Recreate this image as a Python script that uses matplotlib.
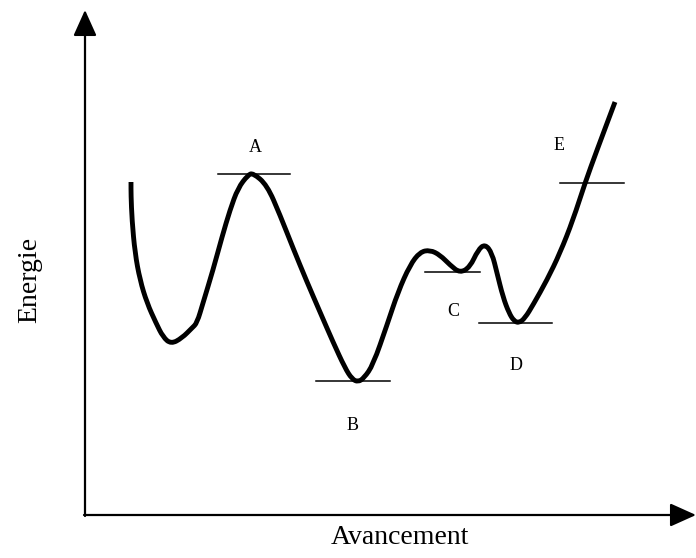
import numpy as np
import matplotlib.pyplot as plt
from matplotlib.path import Path
from matplotlib.patches import PathPatch

# energy profile (pixel-like units, y grows downward)
curve_x = [131, 131, 132, 135, 140, 147, 156, 163, 171, 182, 192, 197, 203, 213, 222,
           230, 238, 248, 253, 267, 280, 293, 307, 320, 333, 345, 352, 358, 364, 373,
           387, 398, 410, 420, 430, 440, 450, 460, 470, 478, 485, 492, 497, 503, 509,
           514, 519, 525, 533, 547, 560, 573, 585, 597, 615]
curve_y = [182, 195, 220, 253, 280, 303, 323, 337, 344, 338, 328, 323, 303, 270, 237,
           210, 188, 175, 173, 185, 215, 248, 282, 312, 342, 368, 379, 382, 378, 365,
           325, 292, 265, 252, 250, 255, 265, 273, 267, 250, 244, 253, 273, 297, 313,
           321, 323, 318, 305, 280, 253, 220, 183, 150, 102]

labels = ['A', 'B', 'C', 'D', 'E']
level_y = [174, 381, 272, 323, 183]
level_x0 = [218, 316, 425, 479, 560]
level_x1 = [290, 390, 480, 552, 624]
label_pos = [(255, 148), (353, 425), (453, 311), (516, 365), (559, 145)]

plt.rcParams['font.family'] = ['Liberation Serif', 'DejaVu Serif']

fig = plt.figure(figsize=(6.96, 5.58), dpi=100)
ax = fig.add_axes([0, 0, 1, 1])
ax.set_xlim(0, 696)
ax.set_ylim(558, 0)
ax.axis('off')

# axes with arrow heads
arrow = dict(arrowstyle='-|>,head_length=1.0,head_width=0.45', lw=1.6,
             color='black', mutation_scale=16, shrinkA=0, shrinkB=0)
ax.annotate('', xy=(85, 10), xytext=(85, 516), arrowprops=arrow)
ax.annotate('', xy=(696, 515), xytext=(84, 515), arrowprops=arrow)

# smooth rendering: traced points used as quadratic control points
pts = np.column_stack([curve_x, curve_y]).astype(float)
mids = (pts[:-1] + pts[1:]) / 2
verts = [pts[0]]
codes = [Path.MOVETO]
verts.append(mids[0]); codes.append(Path.LINETO)
for i in range(1, len(pts) - 1):
    verts += [pts[i], mids[i]]
    codes += [Path.CURVE3, Path.CURVE3]
verts.append(pts[-1]); codes.append(Path.LINETO)
ax.add_patch(PathPatch(Path(verts, codes), fill=False, lw=3.5, edgecolor='black',
                       capstyle='butt', joinstyle='round'))

for lab, y, x0, x1, (tx, ty) in zip(labels, level_y, level_x0, level_x1, label_pos):
    ax.plot([x0, x1], [y, y], color='black', lw=1.1)
    ax.text(tx, ty, lab, fontsize=13, ha='center', va='center')

ax.text(400, 537, 'Avancement', fontsize=20, ha='center', va='center')
ax.text(30, 280, 'Energie', fontsize=20, ha='center', va='center', rotation=90)

fig.savefig('out.png', dpi=100)
